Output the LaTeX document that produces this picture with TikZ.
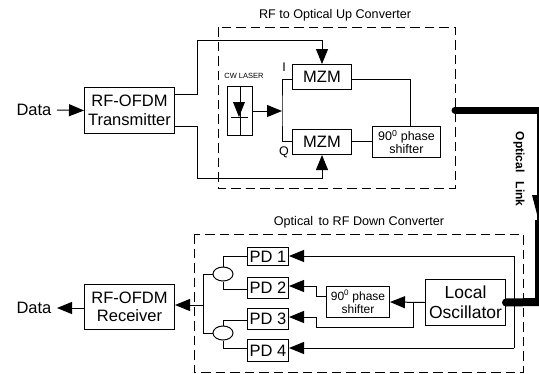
\documentclass[tikz,border=0pt]{standalone}
\usepackage{fontspec}
\setmainfont{Liberation Sans}
\usetikzlibrary{arrows.meta,shapes.geometric}
\tikzset{
  x=1pt,y=-1pt,
  blk/.style={draw,line width=1pt,anchor=north west,inner sep=0pt,align=center},
  wire/.style={line width=1pt},
  arr/.style={line width=1pt,-{Triangle[length=15pt,width=12pt]}},
  dbox/.style={draw,line width=1pt,dash pattern=on 9.5pt off 5pt},
  big/.style={font=\fontsize{16.5}{18.5}\selectfont},
  mid/.style={font=\fontsize{12.5}{13.5}\selectfont},
  ttl/.style={font=\fontsize{12.6}{14}\selectfont},
  comb/.style={draw,line width=1pt,ellipse,minimum width=20pt,minimum height=14pt,inner sep=0pt}
}
\begin{document}
\begin{tikzpicture}
\useasboundingbox (0,0) rectangle (539,373);
% dashed
\draw[dbox] (218,27) rectangle (455,188);
\draw[dbox] (194,234) rectangle (523,372);
\node[ttl] (t1) at (335,15) {RF to Optical Up Converter};
\node[ttl] (t2) at (359,222) {Optical\, to RF Down Converter};
% transmitter
\node[blk,big,minimum width=90pt,minimum height=46pt] (tx) at (84,87) {RF-OFDM\\Transmitter};
\node[big] (d1) at (34,110) {Data};
\coordinate (d1e) at (57,110);
\draw[arr] (d1e) -- (tx.west);
\node[blk,big,minimum width=90pt,minimum height=45pt] (rx) at (84,284) {RF-OFDM\\Receiver};
\node[big] (d2) at (34,308) {Data};
\coordinate (d2e) at (57,308);
\draw[arr] (rx.west |- d2e) -- (d2e);
% MZM
\node[blk,big,minimum width=59pt,minimum height=25pt] (m1) at (292,64) {MZM};
\node[blk,big,minimum width=59pt,minimum height=25pt] (m2) at (292,129) {MZM};
\node[blk,mid,minimum width=68pt,minimum height=31pt] (ps1) at (372,126) {90$^{\mathrm{0}}$ phase\\shifter};
% laser
\node[blk,minimum width=25pt,minimum height=49pt] (las) at (227,86) {};
\node[font=\fontsize{7.5}{9}\selectfont] (cw) at (244,76) {CW LASER};
\draw[wire] (las.north) -- (las.south);
\fill (233,102) -- (245,102) -- (239,117) -- cycle;
\draw[wire] (231,117) -- (248,117);
\coordinate (j) at (282,111);
\draw[arr] (las.east |- j) -- (j);
\draw[wire] (m1.west |- 0,79) -| (j) |- (m2.west |- 0,141);
\node[mid] (li) at (284,67) {I};
\node[mid] (lq) at (284,152) {Q};
\draw[wire] (m1.east |- 0,79) -| (ps1.north -| 410,0);
\draw[wire] (m2.east |- 0,141) -- (ps1.west |- 0,141);
% inputs
\draw[arr] (tx.east |- 0,94) -- (197,94) |- (322,40) -- (m1.north);
\draw[arr] (tx.east |- 0,126) -- (197,126) |- (322,178) -- (m2.south);
% optical link
\coordinate (o1) at (455,110);
\coordinate (o2) at (541,110);
\coordinate (o3) at (541,220);
\draw[line width=7pt,line cap=round] (o1) -- (o2);
\draw[line width=8pt] (o2) -- (o3);
\fill (532,195) -- (546,195) -- (539,222) -- cycle;
\node[font=\bfseries\fontsize{12}{13}\selectfont,rotate=-90] (ol) at (519,169) {Optical\,\,\, Link};
% receiver
\node[blk,big,minimum width=41pt,minimum height=18pt] (p1) at (247,247) {PD 1};
\node[blk,big,minimum width=41pt,minimum height=21pt] (p2) at (247,277) {PD 2};
\node[blk,big,minimum width=41pt,minimum height=21pt] (p3) at (247,308) {PD 3};
\node[blk,big,minimum width=41pt,minimum height=22pt] (p4) at (247,339) {PD 4};
\node[blk,font=\fontsize{17.5}{20}\selectfont,minimum width=80pt,minimum height=46pt] (lo) at (425,279) {Local\\Oscillator};
\node[blk,font=\fontsize{12}{13.5}\selectfont,minimum width=63pt,minimum height=31pt] (ps2) at (326,286) {90$^{\mathrm{0}}$ phase\\shifter};
\draw[line width=8pt,line cap=round] (lo.east) -- (539,302);
\draw[line width=8pt] (539,220) -- (539,306);
\draw[arr] (514,256) -- (p1.east |- 0,256);
\draw[wire] (514,256) -- (514,348);
\draw[arr] (514,348) -- (p4.east |- 0,348);
\draw[arr] (lo.west) -- (ps2.east);
\draw[wire] (413,302) -- (413,327) -- (316,327) -- (316,317);
\draw[arr] (316,317) -- (p3.east |- 0,317);
\draw[wire] (ps2.west |- 0,296) -- (316,296) -- (316,286);
\draw[arr] (316,286) -- (p2.east |- 0,286);
% combiners
\node[comb] (e1) at (223,274) {};
\node[comb] (e2) at (223,333) {};
\draw[wire] (p1.west) -| (e1.north);
\draw[wire] (p2.west |- 0,289) -| (e1.south);
\draw[wire] (p3.west |- 0,320) -| (e2.north);
\draw[wire] (p4.west |- 0,348) -| (e2.south);
\draw[wire] (e1.west) -- (203,274) -- (203,333) -- (e2.west);
\coordinate (jr) at (203,305);
\draw[arr] (jr) -- (rx.east |- jr);
\end{tikzpicture}
\end{document}
